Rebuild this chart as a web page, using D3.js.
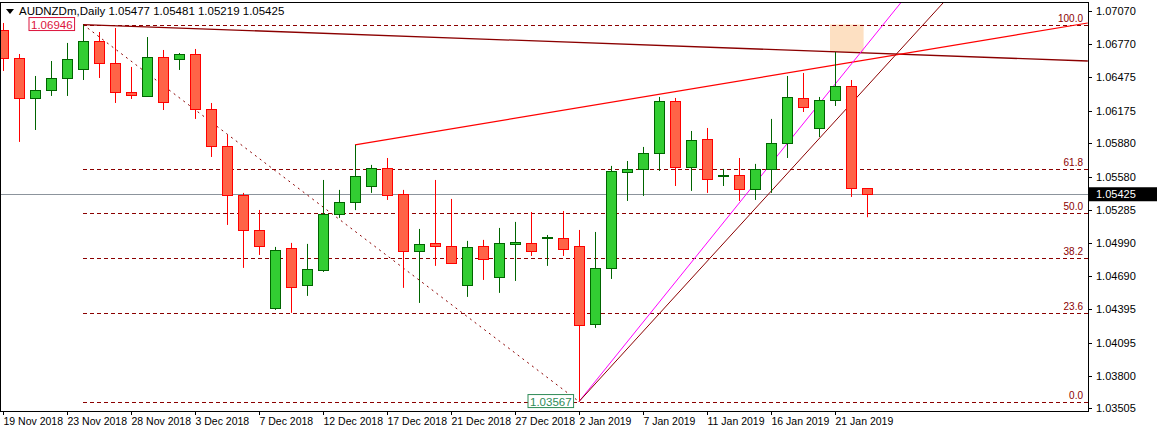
<!DOCTYPE html>
<html><head><meta charset="utf-8">
<script src="https://cdn.jsdelivr.net/npm/d3@7"></script>
<style>body{margin:0;background:#fff}svg{display:block;font-family:"Liberation Sans",Arial,sans-serif}</style>
</head><body><svg id="c" width="1157" height="430"></svg>
<script>
const opens  = [1.06897,1.06646,1.06288,1.06360,1.06467,1.06548,1.06799,1.06602,1.06342,1.06306,1.06655,1.06637,1.06682,1.06189,1.05858,1.05419,1.05105,1.04406,1.04944,1.04612,1.04747,1.05249,1.05356,1.05499,1.05661,1.05428,1.04917,1.04989,1.04962,1.04612,1.04962,1.04684,1.04980,1.04989,1.05042,1.05034,1.04962,1.04263,1.04765,1.05625,1.05652,1.05795,1.06261,1.05670,1.05921,1.05598,1.05598,1.05473,1.05652,1.05885,1.06288,1.06019,1.06270,1.06395,1.05477];
const highs  = [1.06960,1.06682,1.06485,1.06619,1.06781,1.06942,1.06879,1.06915,1.06566,1.06834,1.06718,1.06691,1.06727,1.06243,1.05956,1.05437,1.05284,1.04953,1.04989,1.04980,1.05553,1.05464,1.05867,1.05688,1.05750,1.05464,1.05114,1.05553,1.05383,1.05007,1.05016,1.05123,1.05177,1.05266,1.05060,1.05275,1.05105,1.05087,1.05679,1.05723,1.05849,1.06297,1.06288,1.05992,1.06019,1.05652,1.05750,1.05697,1.06100,1.06485,1.06512,1.06297,1.06700,1.06449,1.05481];
const lows   = [1.06530,1.05894,1.06001,1.06306,1.06306,1.06449,1.06467,1.06243,1.06279,1.06306,1.06180,1.06539,1.06100,1.05759,1.05150,1.04765,1.04881,1.04388,1.04362,1.04514,1.04729,1.05213,1.05283,1.05437,1.05374,1.04586,1.04451,1.04783,1.04800,1.04505,1.04657,1.04541,1.04648,1.04872,1.04783,1.04872,1.03567,1.04227,1.04666,1.05365,1.05410,1.05634,1.05499,1.05455,1.05437,1.05499,1.05365,1.05374,1.05437,1.05750,1.06162,1.05938,1.06216,1.05401,1.05219];
const closes = [1.06646,1.06288,1.06360,1.06467,1.06637,1.06799,1.06602,1.06342,1.06315,1.06655,1.06252,1.06682,1.06189,1.05858,1.05419,1.05105,1.04962,1.04926,1.04594,1.04756,1.05249,1.05356,1.05589,1.05661,1.05419,1.04917,1.04980,1.04962,1.04810,1.04953,1.04845,1.04989,1.04998,1.04917,1.05045,1.04935,1.04254,1.04765,1.05634,1.05652,1.05795,1.06261,1.05670,1.05912,1.05562,1.05601,1.05473,1.05652,1.05885,1.06297,1.06207,1.06270,1.06395,1.05482,1.05425];
const dateLabels = ["19 Nov 2018","23 Nov 2018","28 Nov 2018","3 Dec 2018","7 Dec 2018","12 Dec 2018","17 Dec 2018","21 Dec 2018","27 Dec 2018","2 Jan 2019","7 Jan 2019","11 Jan 2019","16 Jan 2019","21 Jan 2019"];
const priceTicks = [1.07070,1.06770,1.06475,1.06175,1.05880,1.05580,1.05285,1.04990,1.04690,1.04395,1.04095,1.03800,1.03505];
const fibHigh = 1.06946, fibLow = 1.03567;
const fibLevels = [0,23.6,38.2,50,61.8,100];
const lastPrice = 1.05425;
const maLine = [[5,1.06946],[67.8,1.06619]];
const redLine = [[22,1.05867],[67.8,1.06960]];
const magentaLine = [[36,1.03567],[56.1,1.07139]];
const darkLine = [[36,1.03567],[58.75,1.07139]];
const zone = [52,54.1,1.06946,1.06700];

const svg = d3.select("#c");
const L=0,R=1088,T=2,B=411;
const y = d3.scaleLinear().domain([1.0707+(10.7-T)/11158, 1.0707-(B-10.7)/11158]).range([T,B]);
const x = d3.scaleLinear().domain([0,1]).range([3,19]);
const fmt = d3.format(".5f");
svg.append("defs").append("clipPath").attr("id","pc").append("rect").attr("x",L).attr("y",T).attr("width",R-L).attr("height",B-T);
const g = svg.append("g").attr("clip-path","url(#pc)");

g.append("rect").attr("x",x(zone[0])-5).attr("width",x(zone[1])-x(zone[0])).attr("y",y(zone[2])).attr("height",y(zone[3])-y(zone[2])).attr("fill","#fde0c2");
fibLevels.forEach(l=>{
  const p = fibLow + (fibHigh-fibLow)*l/100;
  g.append("line").attr("x1",x(5)).attr("x2",R).attr("y1",Math.round(y(p))+0.5).attr("y2",Math.round(y(p))+0.5).attr("stroke","#8b0000").attr("stroke-dasharray","4,3");
  svg.append("text").attr("x",R-5).attr("y",y(p)-3).attr("text-anchor","end").attr("font-size",10).attr("fill","#8b0000").text(l.toFixed(1));
});
g.append("line").attr("x1",L).attr("x2",R).attr("y1",Math.round(y(lastPrice))+0.5).attr("y2",Math.round(y(lastPrice))+0.5).attr("stroke","#8c949c");
g.append("line").attr("x1",x(5)).attr("y1",y(fibHigh)).attr("x2",x(36)).attr("y2",y(fibLow)).attr("stroke","#8b0000").attr("stroke-dasharray","2,4");
const ln = d3.line().x(d=>x(d[0])).y(d=>y(d[1]));
g.append("path").attr("d",ln(maLine)).attr("stroke","#8b0000").attr("fill","none").attr("stroke-width",1.3);
g.append("path").attr("d",ln(redLine)).attr("stroke","#ff0000").attr("fill","none").attr("stroke-width",1.2);
g.append("path").attr("d",ln(magentaLine)).attr("stroke","#ff00ff").attr("fill","none");
g.append("path").attr("d",ln(darkLine)).attr("stroke","#8b0000").attr("fill","none");

opens.forEach((o,i)=>{
  const c=closes[i], up=c>=o;
  const stroke = up?"#006400":"#ff0000", fill = up?"#32cd32":"#ff6347";
  const cx = Math.round(x(i))+0.5;
  g.append("line").attr("x1",cx).attr("x2",cx).attr("y1",y(highs[i])).attr("y2",y(lows[i])).attr("stroke",stroke);
  const top=Math.round(y(Math.max(o,c)))+0.5, bot=Math.round(y(Math.min(o,c)))+0.5;
  g.append("rect").attr("x",cx-5).attr("width",10).attr("y",top).attr("height",Math.max(bot-top,1)).attr("fill",fill).attr("stroke",stroke);
});
function box(txt,px,py,col){
  const t = svg.append("text").attr("x",px+3).attr("y",py+4).attr("font-size",11.5).attr("fill",col).text(txt);
  const bb=t.node().getBBox();
  svg.insert("rect","text").attr("x",bb.x-2).attr("y",bb.y-1).attr("width",bb.width+4).attr("height",bb.height+1).attr("fill","#fff").attr("stroke",col);
}
box(fmt(fibHigh),28,y(fibHigh),"#dc143c");
box(fmt(fibLow),x(36)-52,y(fibLow),"#2e8b57");

svg.append("rect").attr("x",L+0.5).attr("y",T+0.5).attr("width",R-L).attr("height",B-T).attr("fill","none").attr("stroke","#000");
priceTicks.forEach(p=>{
  svg.append("line").attr("x1",R).attr("x2",R+4).attr("y1",Math.round(y(p))+0.5).attr("y2",Math.round(y(p))+0.5).attr("stroke","#000");
  svg.append("text").attr("x",R+8).attr("y",y(p)+4).attr("font-size",11).attr("fill","#000").text(fmt(p));
});
svg.append("rect").attr("x",R+1).attr("y",y(lastPrice)-7).attr("width",68).attr("height",14).attr("fill","#000");
svg.append("text").attr("x",R+8).attr("y",y(lastPrice)+4).attr("font-size",11).attr("fill","#fff").text(fmt(lastPrice));
dateLabels.forEach((d,k)=>{
  const xi = Math.round(x(k*4))+0.5;
  svg.append("line").attr("x1",xi).attr("x2",xi).attr("y1",B).attr("y2",B+4).attr("stroke","#000");
  svg.append("text").attr("x",xi).attr("y",B+14).attr("font-size",10.5).attr("fill","#000").text(d);
});
svg.append("path").attr("d","M6,9 L14,9 L10,14 Z").attr("fill","#000");
svg.append("text").attr("x",19).attr("y",15).attr("font-size",11.5).attr("fill","#000").text("AUDNZDm,Daily  1.05477 1.05481 1.05219 1.05425");
</script></body></html>
